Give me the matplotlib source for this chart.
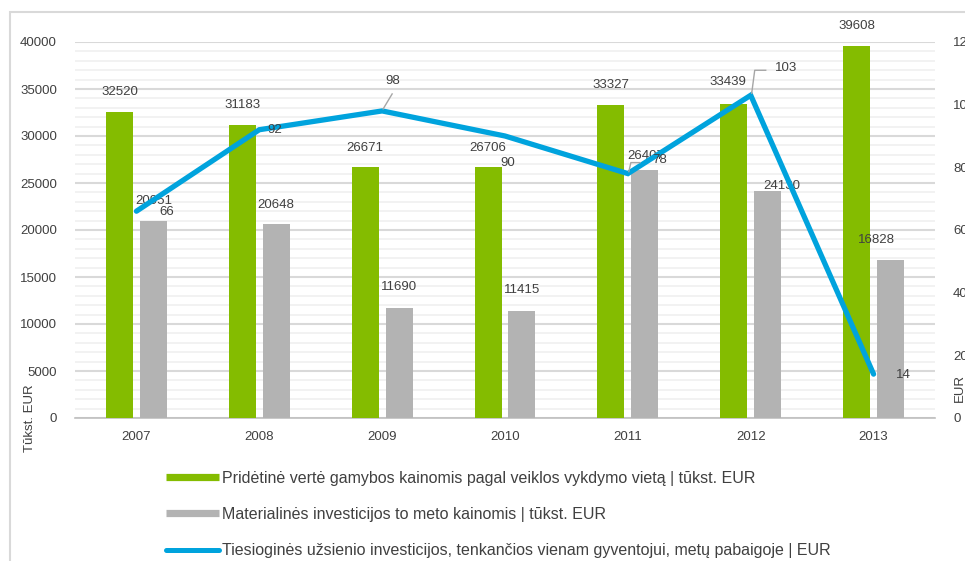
import matplotlib
matplotlib.use("Agg")
import matplotlib.pyplot as plt
from matplotlib.lines import Line2D
from matplotlib.patches import Rectangle
from matplotlib.transforms import IdentityTransform
import numpy as np

# duomenys
years = ["2007", "2008", "2009", "2010", "2011", "2012", "2013"]
added_value = [32520, 31183, 26671, 26706, 33327, 33439, 39608]
investments = [20951, 20648, 11690, 11415, 26407, 24130, 16828]
fdi_per_capita = [66, 92, 98, 90, 78, 103, 14]

legend_labels = [
    "Pridėtinė vertė gamybos kainomis pagal veiklos vykdymo vietą | tūkst. EUR",
    "Materialinės investicijos to meto kainomis | tūkst. EUR",
    "Tiesioginės užsienio investicijos, tenkančios vienam gyventojui, metų pabaigoje | EUR",
]

GREEN = "#84BC00"
GREY = "#B3B3B3"
BLUE = "#00A3DD"
TXT = "#404040"
PX = 0.72  # pikselis -> taškai (dpi 100)

plt.rcParams["font.family"] = ["Liberation Sans", "DejaVu Sans"]

fig = plt.figure(figsize=(9.65, 5.61), dpi=100)
W, H = 965, 561

# išorinis rėmelis
fig.patches.append(Rectangle((10 / W, -0.1), 1.2, 1 - 12 / H + 0.1, transform=fig.transFigure,
                             fill=False, edgecolor="#D9D9D9", linewidth=1.5))

ax = fig.add_axes([75 / W, 1 - 418 / H, 860 / W, 376 / H])
ax2 = ax.twinx()

x = np.arange(len(years))
bw = 0.22
off = 0.138
ax.bar(x - off, added_value, bw, color=GREEN, zorder=3)
ax.bar(x + off, investments, bw, color=GREY, zorder=3)

ax.set_xlim(-0.5, len(years) - 0.5)
ax.set_ylim(0, 40000)
ax.set_yticks(np.arange(0, 40001, 5000))
ax.set_yticks(np.arange(0, 40001, 1000), minor=True)
ax.grid(axis="y", which="major", color="#D9D9D9", linewidth=1.5, zorder=0)
ax.grid(axis="y", which="minor", color="#F0F0F0", linewidth=1.2, zorder=0)
ax.set_axisbelow(True)
ax.set_xticks(x)
ax.set_xticklabels(years)
ax.tick_params(axis="both", which="both", length=0, labelsize=9.5, labelcolor=TXT)
ax.tick_params(axis="y", pad=13)
ax.tick_params(axis="x", pad=9)
for s in ["top", "left", "right"]:
    ax.spines[s].set_visible(False)
ax.spines["bottom"].set_color("#BFBFBF")
ax.spines["bottom"].set_linewidth(1.2)

ax2.plot(x, fdi_per_capita, color=BLUE, linewidth=3.8, solid_capstyle="round",
         solid_joinstyle="miter", zorder=5)
ax2.set_ylim(0, 120)
ax2.set_yticks(np.arange(0, 121, 20))
ax2.tick_params(axis="y", length=0, labelsize=9.5, labelcolor=TXT, pad=13)
for s in ["top", "left", "right", "bottom"]:
    ax2.spines[s].set_visible(False)

# reikšmių etiketės (poslinkiai pikseliais)
green_off = [(0, 20), (0, 20), (0, 19), (0, 19), (0, 20), (-6, 22), (0, 20)]
grey_off = [(0, 20), (0, 19), (0, 21), (0, 21), (1, 14), (14, 5), (-14, 20)]
for i in range(len(years)):
    dx, dy = green_off[i]
    ax.annotate(str(added_value[i]), (x[i] - off, added_value[i]), xytext=(dx * PX, dy * PX),
                textcoords="offset points", ha="center", va="center", fontsize=9.5, color=TXT, zorder=6)
    dx, dy = grey_off[i]
    ax.annotate(str(investments[i]), (x[i] + off, investments[i]), xytext=(dx * PX, dy * PX),
                textcoords="offset points", ha="center", va="center", fontsize=9.5, color=TXT, zorder=6)

line_off = [(30, -1), (15, 0), (11, 30), (3, -27), (32, 14), (35, 27), (30, -1)]
# kreipiamosios linijos: taškai pikseliais nuo reikšmės (y žemyn)
leaders = {
    2: [(1, -2), (10, -17)],
    4: [(1, -2), (3, -11), (12, -11)],
    5: [(1, -2), (4, -25), (15, -25)],
}
for i in range(len(years)):
    dx, dy = line_off[i]
    ax2.annotate(str(fdi_per_capita[i]), (x[i], fdi_per_capita[i]), xytext=(dx * PX, dy * PX),
                 textcoords="offset points", ha="center", va="center", fontsize=9.5,
                 color=TXT, zorder=7)
    if i in leaders:
        px0, py0 = ax2.transData.transform((x[i], fdi_per_capita[i]))
        xs = [px0 + a for a, b in leaders[i]]
        ys = [py0 - b for a, b in leaders[i]]
        fig.add_artist(Line2D(xs, ys, transform=IdentityTransform(), color="#A6A6A6",
                              linewidth=1, zorder=8))

# ašių pavadinimai
fig.text(30 / W, 1 - 418 / H, "Tūkst. EUR", rotation=90, ha="center", va="center",
         fontsize=9.5, color=TXT)
fig.text(960 / W, 1 - 388 / H, "EUR", rotation=90, ha="center", va="center",
         fontsize=9.5, color=TXT)

# legenda
handles = [
    Line2D([], [], color=GREEN, linewidth=5.2, solid_capstyle="butt"),
    Line2D([], [], color=GREY, linewidth=5.2, solid_capstyle="butt"),
    Line2D([], [], color=BLUE, linewidth=3.6, solid_capstyle="round"),
]
leg = fig.legend(handles, legend_labels, loc="upper left", bbox_to_anchor=(166 / W, 1 - 471 / H),
                 frameon=False, handlelength=3.3, handletextpad=0.2, labelspacing=1.32,
                 prop={"family": ["Liberation Sans Narrow", "Liberation Sans"], "size": 11.5},
                 borderaxespad=0, borderpad=0)
for t in leg.get_texts():
    t.set_color(TXT)

fig.savefig("out.png", dpi=100)
